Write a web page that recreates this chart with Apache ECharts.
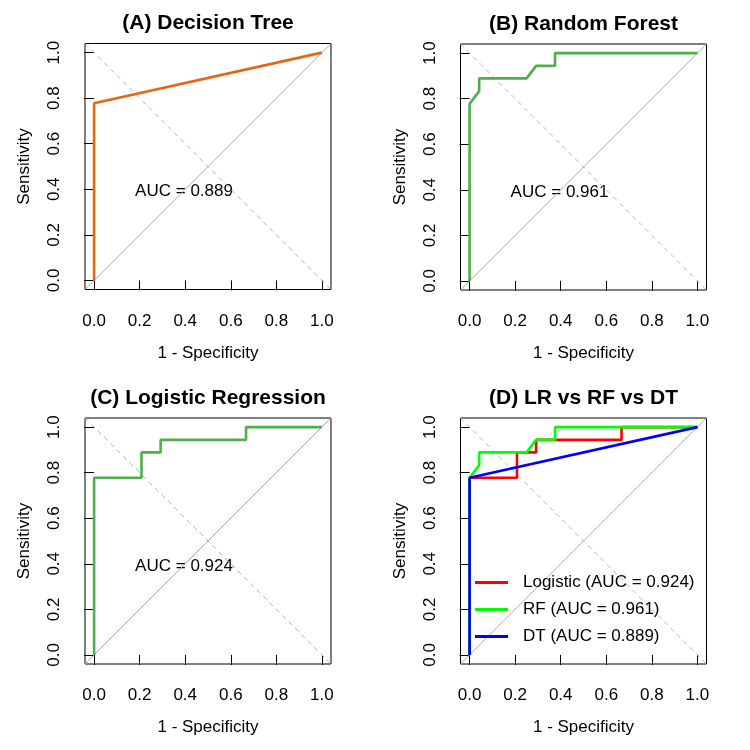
<!DOCTYPE html>
<html>
<head>
<meta charset="utf-8">
<script src="https://cdn.jsdelivr.net/npm/echarts@6/dist/echarts.min.js"></script>
<style>
  html, body { margin: 0; padding: 0; background: #fff; }
  #main { width: 750px; height: 750px; }
</style>
</head>
<body>
<div id="main"></div>
<script>
// ROC points: x = 1 - specificity, y = sensitivity
const dtFpr = [0, 0, 1];
const dtTpr = [0, 0.778, 1];
const rfFpr = [0, 0, 0.042, 0.042, 0.25, 0.292, 0.375, 0.375, 1];
const rfTpr = [0, 0.778, 0.833, 0.889, 0.889, 0.944, 0.944, 1, 1];
const lrFpr = [0, 0, 0.208, 0.208, 0.292, 0.292, 0.667, 0.667, 1];
const lrTpr = [0, 0.778, 0.778, 0.889, 0.889, 0.944, 0.944, 1, 1];

const aucDT = 0.889;
const aucRF = 0.961;
const aucLR = 0.924;

const tickValues = [0, 0.2, 0.4, 0.6, 0.8, 1.0];
const panelTitles = ["(A) Decision Tree", "(B) Random Forest", "(C) Logistic Regression", "(D) LR vs RF vs DT"];
const legendNames = ["Logistic (AUC = " + aucLR + ")", "RF (AUC = " + aucRF + ")", "DT (AUC = " + aucDT + ")"];

// layout
const font = "Liberation Sans, Arial, Helvetica, sans-serif";
const axMin = -0.04, axMax = 1.04; // R pads the range by 4%
const size = 246;
const panels = [
  { left: 85, top: 43.5 },
  { left: 460.5, top: 44 },
  { left: 85, top: 418 },
  { left: 460.5, top: 418 },
];
const aucPos = [0.18, 0.39]; // where the AUC note starts

function pairs(xs, ys) {
  return xs.map((x, i) => [x, ys[i]]);
}

let myChart = echarts.init(document.getElementById("main"));

let grids = [], xAxes = [], yAxes = [], series = [], graphics = [];

panels.forEach((p, i) => {
  grids.push({
    left: p.left, top: p.top, width: size, height: size,
    show: true, borderColor: "#000", borderWidth: 1, backgroundColor: "transparent",
  });
  xAxes.push({
    gridIndex: i, type: "value", min: axMin, max: axMax,
    axisLine: { show: false },
    axisTick: { show: true, customValues: tickValues, length: 10, lineStyle: { color: "#000", width: 1 } },
    axisLabel: {
      customValues: tickValues, margin: 23, fontSize: 17, color: "#000", fontFamily: font,
      formatter: (v) => v.toFixed(1),
    },
    splitLine: { show: false },
    name: "1 - Specificity", nameLocation: "middle", nameGap: 55,
    nameTextStyle: { fontSize: 17, color: "#000", fontFamily: font },
  });
  yAxes.push({
    gridIndex: i, type: "value", min: axMin, max: axMax,
    axisLine: { show: false },
    axisTick: { show: true, customValues: tickValues, length: 10, lineStyle: { color: "#000", width: 1 } },
    axisLabel: {
      customValues: tickValues, margin: 22, rotate: 90, fontSize: 17, color: "#000", fontFamily: font,
      formatter: (v) => v.toFixed(1),
    },
    splitLine: { show: false },
    name: "Sensitivity", nameLocation: "middle", nameGap: 52,
    nameTextStyle: { fontSize: 17, color: "#000", fontFamily: font },
  });
  // reference lines: identity (solid) and anti-diagonal (dashed)
  series.push({
    type: "line", xAxisIndex: i, yAxisIndex: i, symbol: "none", silent: true,
    data: [[axMin, axMin], [axMax, axMax]],
    lineStyle: { color: "#A8A8A8", width: 1 },
  });
  series.push({
    type: "line", xAxisIndex: i, yAxisIndex: i, symbol: "none", silent: true,
    data: [[axMin, axMax], [axMax, axMin]],
    lineStyle: { color: "#B4B4B4", width: 1, type: [5, 4] },
  });
  graphics.push({
    type: "text", x: p.left + size / 2, y: p.top - 20,
    style: {
      text: panelTitles[i], align: "center", verticalAlign: "middle",
      fontSize: 21, fontWeight: "bold", fontFamily: font, fill: "#000",
    },
  });
});

function curve(name, idx, xs, ys, color) {
  return {
    name: name, type: "line", xAxisIndex: idx, yAxisIndex: idx, symbol: "none", silent: true,
    data: pairs(xs, ys), color: color,
    lineStyle: { color: color, width: 2.6 },
  };
}

function aucNote(idx, auc) {
  return {
    type: "scatter", xAxisIndex: idx, yAxisIndex: idx, symbolSize: 0, silent: true,
    data: [aucPos],
    itemStyle: { opacity: 1 },
    label: {
      show: true, position: "right", distance: 0, formatter: "AUC = " + auc,
      fontSize: 17, color: "#000", fontFamily: font, textBorderWidth: 0, opacity: 1,
    },
  };
}

series.push(curve("dt-a", 0, dtFpr, dtTpr, "#E8650F"));
series.push(aucNote(0, aucDT));
series.push(curve("rf-b", 1, rfFpr, rfTpr, "#4DAF4A"));
series.push(aucNote(1, aucRF));
series.push(curve("lr-c", 2, lrFpr, lrTpr, "#4DAF4A"));
series.push(aucNote(2, aucLR));
series.push(curve(legendNames[0], 3, lrFpr, lrTpr, "#FF0000"));
series.push(curve(legendNames[1], 3, rfFpr, rfTpr, "#00FF00"));
series.push(curve(legendNames[2], 3, dtFpr, dtTpr, "#0000FF"));

var option = {
  animation: false,
  backgroundColor: "#fff",
  grid: grids,
  xAxis: xAxes,
  yAxis: yAxes,
  series: series,
  graphic: graphics,
  legend: {
    data: legendNames, orient: "vertical", left: 475, top: 574, padding: 0,
    icon: "rect", itemWidth: 33, itemHeight: 3, itemGap: 10,
    selectedMode: false,
    textStyle: { fontSize: 17, color: "#000", fontFamily: font, padding: [0, 0, 0, 10] },
  },
};

option && myChart.setOption(option, true);
</script>
</body>
</html>
